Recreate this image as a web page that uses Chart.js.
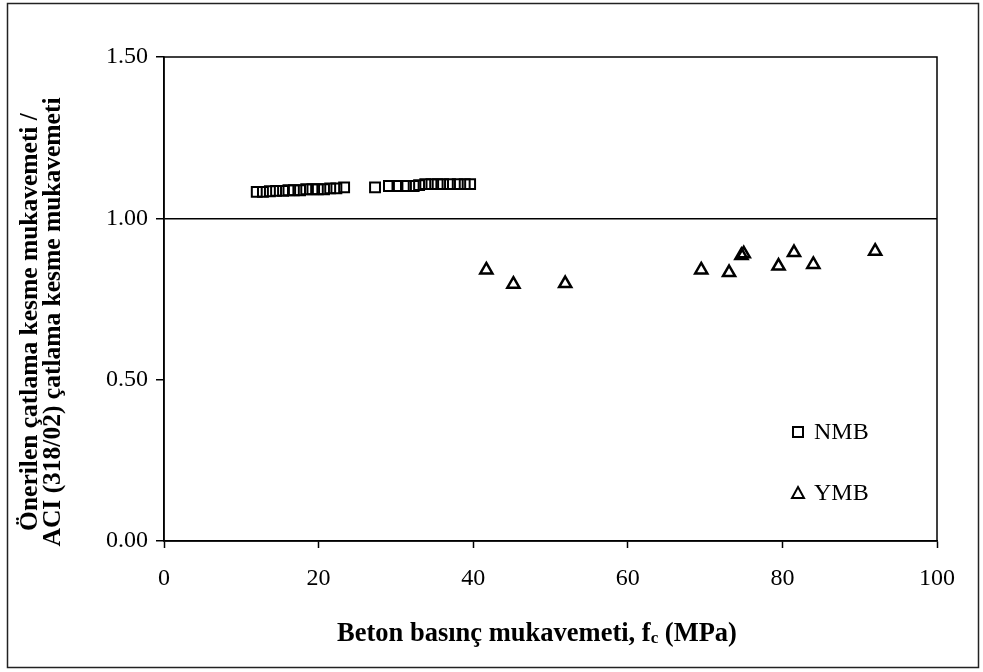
<!DOCTYPE html>
<html>
<head>
<meta charset="utf-8">
<script src="https://cdn.jsdelivr.net/npm/chart.js@4.4.0/dist/chart.umd.min.js"></script>
<style>
  html, body { margin: 0; padding: 0; background: #fff; }
  canvas { display: block; }
</style>
</head>
<body>
<canvas id="chart" width="983" height="672"></canvas>
<script>
// NMB (normal strength) - fc in MPa, ratio
const nmbFc = [12.0, 12.8, 13.7, 14.5, 15.4, 16.1, 16.8, 17.6, 18.4, 19.2, 19.9, 20.7, 21.5, 22.3, 23.3,
               27.3, 29.1, 30.2, 31.3, 32.3, 33.0, 33.8, 34.6, 35.4, 36.1, 37.0, 38.0, 38.9, 39.6];
const nmbRatio = [1.082, 1.082, 1.084, 1.085, 1.085, 1.087, 1.087, 1.087, 1.090, 1.090, 1.090, 1.090, 1.093, 1.093, 1.096,
                  1.096, 1.100, 1.100, 1.100, 1.100, 1.103, 1.106, 1.106, 1.106, 1.106, 1.106, 1.106, 1.106, 1.106];
// YMB (high strength)
const ymbFc = [41.7, 45.2, 51.9, 69.5, 73.1, 74.7, 75.0, 79.5, 81.5, 84.0, 92.0];
const ymbRatio = [0.840, 0.796, 0.798, 0.840, 0.832, 0.885, 0.890, 0.852, 0.894, 0.857, 0.898];

const seriesNames = ["NMB", "YMB"];
const xTicks = [0, 20, 40, 60, 80, 100];
const yTicks = [0.00, 0.50, 1.00, 1.50];

const xTitle = ["Beton basınç mukavemeti, f", "c", " (MPa)"];
const yTitle = ["Önerilen çatlama kesme mukavemeti /", "ACI (318/02) çatlama kesme mukavemeti"];

const serif = "'Liberation Serif', 'Times New Roman', serif";

function pts(xs, ys) {
  return xs.map((x, i) => ({ x: x, y: ys[i] }));
}

// frame, plot box, axis titles and legend
const extras = {
  id: 'extras',
  beforeDraw(chart) {
    const ctx = chart.ctx;
    ctx.save();
    ctx.fillStyle = '#fff';
    ctx.fillRect(0, 0, chart.width, chart.height);
    ctx.strokeStyle = '#222';
    ctx.lineWidth = 1.5;
    ctx.strokeRect(7.5, 3.5, 971, 664);
    ctx.restore();
  },
  afterDraw(chart) {
    const ctx = chart.ctx;
    const a = chart.chartArea;
    ctx.save();
    ctx.strokeStyle = '#000';
    ctx.lineWidth = 1.5;
    ctx.strokeRect(a.left, a.top, a.right - a.left, a.bottom - a.top);

    // x title with subscript c
    ctx.fillStyle = '#000';
    ctx.textBaseline = 'alphabetic';
    const big = "bold 26.5px " + serif, small = "bold 17px " + serif;
    ctx.font = big;
    const w1 = ctx.measureText(xTitle[0]).width, w3 = ctx.measureText(xTitle[2]).width;
    ctx.font = small;
    const w2 = ctx.measureText(xTitle[1]).width;
    let x0 = 537 - (w1 + w2 + w3) / 2;
    const yb = 641;
    ctx.font = big; ctx.fillText(xTitle[0], x0, yb);
    ctx.font = small; ctx.fillText(xTitle[1], x0 + w1, yb + 2);
    ctx.font = big; ctx.fillText(xTitle[2], x0 + w1 + w2, yb);

    // y title, two lines rotated
    ctx.save();
    ctx.translate(0, 322);
    ctx.rotate(-Math.PI / 2);
    ctx.font = "bold 25.5px " + serif;
    ctx.textAlign = 'center';
    ctx.textBaseline = 'middle';
    ctx.fillText(yTitle[0], 0, 30);
    ctx.fillText(yTitle[1], 0, 53);
    ctx.restore();

    // legend inside plot
    const lx = a.right - 139;
    const rows = [a.top + 375, a.top + 436];
    ctx.lineWidth = 2;
    ctx.font = "24px " + serif;
    ctx.textAlign = 'left';
    ctx.textBaseline = 'middle';
    chart.data.datasets.forEach((ds, i) => {
      const y = rows[i];
      ctx.beginPath();
      if (ds.pointStyle === 'rect') {
        ctx.rect(lx - 5, y - 5, 10, 10);
      } else {
        ctx.moveTo(lx, y - 6);
        ctx.lineTo(lx + 6, y + 5);
        ctx.lineTo(lx - 6, y + 5);
        ctx.closePath();
      }
      ctx.stroke();
      ctx.fillText(ds.label, lx + 16, y + 1);
    });
    ctx.restore();
  }
};

new Chart(document.getElementById('chart'), {
  type: 'scatter',
  data: {
    datasets: [
      {
        label: seriesNames[0],
        data: pts(nmbFc, nmbRatio),
        pointStyle: 'rect',
        pointRadius: 7,
        backgroundColor: 'rgba(0,0,0,0)',
        borderColor: '#000',
        borderWidth: 2
      },
      {
        label: seriesNames[1],
        data: pts(ymbFc, ymbRatio),
        pointStyle: 'triangle',
        pointRadius: 7,
        backgroundColor: 'rgba(0,0,0,0)',
        borderColor: '#000',
        borderWidth: 2.5
      }
    ]
  },
  options: {
    responsive: false,
    animation: false,
    devicePixelRatio: 1,
    layout: { padding: { left: 0, top: 57, right: 46, bottom: 0 } },
    plugins: {
      legend: { display: false },
      tooltip: { enabled: false }
    },
    scales: {
      x: {
        type: 'linear',
        min: xTicks[0],
        max: xTicks[xTicks.length - 1],
        afterBuildTicks: s => { s.ticks = xTicks.map(v => ({ value: v })); },
        afterFit: s => { s.height = 131; },
        ticks: {
          font: { family: serif, size: 24 },
          color: '#000',
          padding: 16,
          maxRotation: 0
        },
        grid: {
          drawOnChartArea: false,
          tickLength: 7,
          tickColor: '#000',
          tickWidth: 1.5
        },
        border: { display: true, color: '#000', width: 1.5 }
      },
      y: {
        type: 'linear',
        min: yTicks[0],
        max: yTicks[yTicks.length - 1],
        afterBuildTicks: s => { s.ticks = yTicks.map(v => ({ value: v })); },
        afterFit: s => { s.width = 164; },
        ticks: {
          font: { family: serif, size: 24 },
          color: '#000',
          padding: 8,
          callback: v => v.toFixed(2)
        },
        grid: {
          color: c => (c.tick && c.tick.value === 1) ? '#000' : 'rgba(0,0,0,0)',
          lineWidth: 1.5,
          tickLength: 8,
          tickColor: '#000',
          tickWidth: 1.5
        },
        border: { display: true, color: '#000', width: 1.5 }
      }
    }
  },
  plugins: [extras]
});
</script>
</body>
</html>
